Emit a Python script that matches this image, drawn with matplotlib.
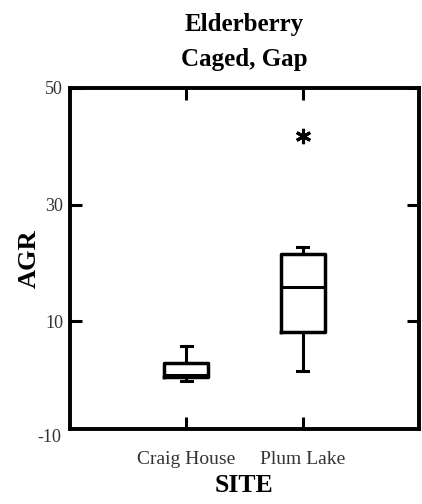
import matplotlib
matplotlib.use("Agg")
import matplotlib.pyplot as plt
import matplotlib.transforms as mtransforms

plt.rcParams['font.family'] = ['Liberation Serif', 'DejaVu Serif']

sites = ["Craig House", "Plum Lake"]
whislo = [-0.2, 1.4]
q1 = [0.4, 8.2]
med = [0.7, 15.8]
q3 = [2.8, 21.6]
whishi = [5.8, 22.8]
fliers = [[], [41.8]]
yticks = [50, 30, 10]

stats = []
for i, s in enumerate(sites):
    stats.append(dict(label=s, whislo=whislo[i], q1=q1[i], med=med[i],
                      q3=q3[i], whishi=whishi[i], fliers=fliers[i]))

fig = plt.figure(figsize=(4.22, 5.04), dpi=100)
ax = fig.add_axes([70/422, 1 - 429/504, 349/422, 341/504])

ax.bxp(stats, positions=[1, 2], widths=0.38, capwidths=0.09,
       boxprops=dict(color='black', linewidth=2.5),
       medianprops=dict(color='black', linewidth=2.2),
       whiskerprops=dict(color='black', linewidth=2.2),
       capprops=dict(color='black', linewidth=2.2),
       flierprops=dict(marker=(6, 2, 0), markersize=11, markeredgewidth=2.2,
                       markeredgecolor='black', markerfacecolor='black'))

ax.set_xlim(0, 3)
ax.set_ylim(-8.5, 50)
ax.set_yticks(yticks)
ax.set_yticklabels([str(v) for v in yticks])
# the lowest label sits just below the frame in the original
trans = mtransforms.blended_transform_factory(ax.transAxes, ax.transData)
ax.text(-0.025, -10, "-10", transform=trans, ha='right', va='center',
        fontsize=13, color='#333333')

for sp in ax.spines.values():
    sp.set_linewidth(2.8)

ax.tick_params(axis='both', direction='in', length=8.5, width=2.2,
               top=True, right=True, labelsize=13, labelcolor='#333333')
ax.tick_params(axis='y', pad=5)
ax.tick_params(axis='x', pad=16, labelsize=14)

ax.set_ylabel("AGR", fontsize=19, fontweight='bold', labelpad=3)
ax.set_xlabel("SITE", fontsize=18.5, fontweight='bold', labelpad=4)
ax.set_title("Elderberry\nCaged, Gap", fontsize=18, fontweight='bold',
             pad=16, linespacing=1.65)

fig.savefig("out.png", dpi=100)
